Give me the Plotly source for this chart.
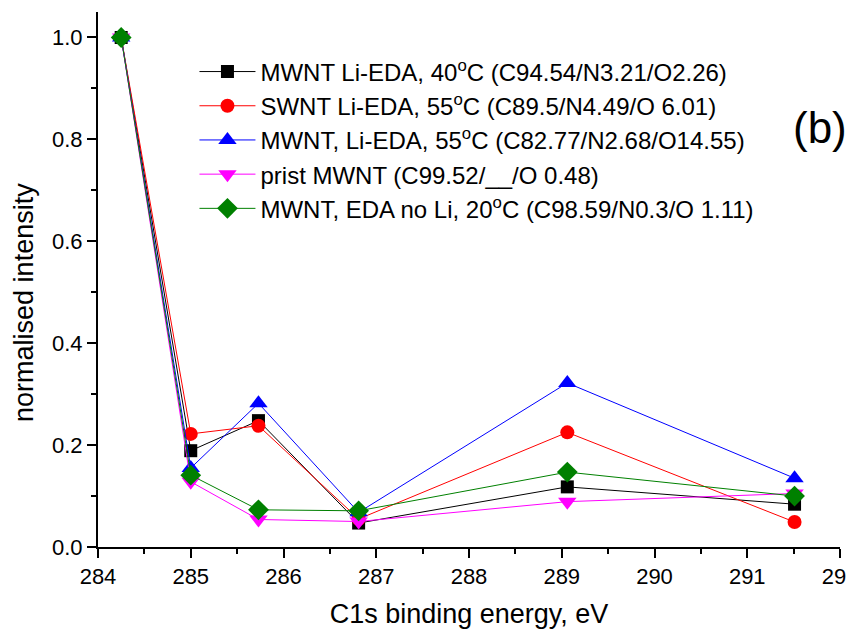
import plotly.graph_objects as go

energy = [284.25, 285.0, 285.73, 286.81, 289.06, 291.51]
names = [
    "MWNT Li-EDA, 40<sup>o</sup>C (C94.54/N3.21/O2.26)",
    "SWNT Li-EDA, 55<sup>o</sup>C (C89.5/N4.49/O 6.01)",
    "MWNT, Li-EDA, 55<sup>o</sup>C (C82.77/N2.68/O14.55)",
    "prist MWNT (C99.52/__/O 0.48)",
    "MWNT, EDA no Li, 20<sup>o</sup>C (C98.59/N0.3/O 1.11)",
]
mwnt_40 = [1.0, 0.189, 0.248, 0.047, 0.118, 0.084]
swnt_55 = [1.0, 0.222, 0.238, 0.055, 0.225, 0.049]
mwnt_55 = [1.0, 0.155, 0.282, 0.068, 0.322, 0.135]
prist = [1.0, 0.128, 0.054, 0.050, 0.089, 0.105]
eda_noli = [1.0, 0.141, 0.073, 0.071, 0.147, 0.100]

series = [mwnt_40, swnt_55, mwnt_55, prist, eda_noli]
colors = ["black", "red", "blue", "magenta", "#008000"]
symbols = ["square", "circle", "triangle-up", "triangle-down", "diamond"]
sizes = [13, 14, 16, 16, 16]

fig = go.Figure()
for vals, name, col, sym, sz in zip(series, names, colors, symbols, sizes):
    fig.add_trace(go.Scatter(
        x=energy, y=vals, name=name, mode="lines+markers",
        line=dict(color=col, width=1),
        marker=dict(symbol=sym, size=sz, color=col, line=dict(width=0)),
    ))

font = "Liberation Sans, Arial, sans-serif"
# The page body has an 8px margin, so the figure is sized to fit the 854x629 window.
fig.update_layout(
    width=846, height=621,
    margin=dict(l=90, r=14, t=4, b=82),
    plot_bgcolor="white", paper_bgcolor="white",
    font=dict(family=font, color="black", size=22),
    legend=dict(
        x=0.13, y=0.93, xanchor="left", yanchor="top",
        font=dict(size=24), bgcolor="rgba(0,0,0,0)",
        tracegroupgap=0, itemwidth=56,
    ),
    annotations=[
        dict(
            text="(b)", x=0.973, y=0.785, xref="paper", yref="paper",
            showarrow=False, font=dict(size=44, family=font),
            xanchor="center", yanchor="middle",
        ),
        dict(
            text="normalised intensity", x=-0.0995, y=0.4565,
            xref="paper", yref="paper", textangle=-90,
            showarrow=False, font=dict(size=27, family=font),
            xanchor="center", yanchor="middle",
        ),
    ],
)
fig.update_xaxes(
    range=[284, 292], dtick=1, tick0=284,
    showline=True, linecolor="black", linewidth=2,
    ticks="outside", ticklen=9, tickwidth=2, tickcolor="black",
    minor=dict(ticks="outside", ticklen=5, tickwidth=2, dtick=0.5, tickcolor="black"),
    showgrid=False, zeroline=False,
    title=dict(text="C1s binding energy, eV", font=dict(size=27), standoff=16),
    tickfont=dict(size=22),
    ticklabeloverflow="allow",
    automargin=False,
)
fig.update_yaxes(
    range=[0, 1.05], dtick=0.2, tick0=0, tickformat=".1f",
    showline=True, linecolor="black", linewidth=2,
    ticks="outside", ticklen=9, tickwidth=2, tickcolor="black",
    minor=dict(ticks="outside", ticklen=5, tickwidth=2, dtick=0.1, tickcolor="black"),
    showgrid=False, zeroline=False,
    tickfont=dict(size=22),
    automargin=False,
)
fig.write_html("out.html")
